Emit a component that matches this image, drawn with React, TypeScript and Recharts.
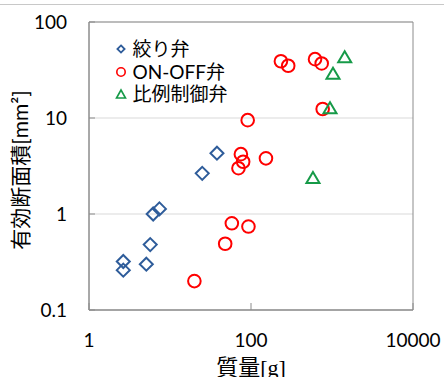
import React from "react";
import {
  ScatterChart,
  Scatter,
  XAxis,
  YAxis,
  CartesianGrid,
  ReferenceArea,
  Legend,
} from "recharts";

// 絞り弁
const throttleMass = [2.65, 2.65, 5.1, 5.7, 6.2, 7.4, 25, 38];
const throttleArea = [0.32, 0.26, 0.3, 0.48, 1.0, 1.13, 2.65, 4.3];

// ON-OFF弁
const onoffMass = [20, 48, 58, 93, 70, 80, 75, 91, 153, 234, 288, 617, 746, 767];
const onoffArea = [0.2, 0.49, 0.8, 0.74, 3.0, 3.5, 4.2, 9.5, 3.8, 39, 35, 41, 37, 12.4];

// 比例制御弁
const propMass = [582, 945, 1029, 1435];
const propArea = [2.4, 12.8, 29.3, 43.5];

const xTicks = [1, 100, 10000];
const yTicks = [0.1, 1, 10, 100];

const FONT = "Lato, 'Noto Sans CJK JP', sans-serif";
const AXIS = "#8c8c8c";
const GRID = "#d9d9d9";
const BLUE = "#2e5c9a";
const RED = "#ff0000";
const GREEN = "#169a48";

const toPoints = (xs: number[], ys: number[]) => xs.map((x, i) => ({ x, y: ys[i] }));

const Diamond = ({ cx, cy, r = 6.5, sw = 2 }: any) => (
  <polygon
    points={`${cx},${cy - r} ${cx + r},${cy} ${cx},${cy + r} ${cx - r},${cy}`}
    fill="none"
    stroke={BLUE}
    strokeWidth={sw}
  />
);

const Ring = ({ cx, cy, r = 6.3, sw = 2 }: any) => (
  <circle cx={cx} cy={cy} r={r} fill="none" stroke={RED} strokeWidth={sw} />
);

const Tri = ({ cx, cy, w = 6.5, h = 5.5, sw = 2 }: any) => (
  <polygon
    points={`${cx},${cy - h} ${cx + w},${cy + h} ${cx - w},${cy + h}`}
    fill="none"
    stroke={GREEN}
    strokeWidth={sw}
    strokeLinejoin="miter"
  />
);

const series = [
  { name: "絞り弁", icon: <Diamond cx={7} cy={7} r={3.6} sw={1.8} /> },
  { name: "ON-OFF弁", icon: <Ring cx={7} cy={7} r={4.2} sw={1.6} /> },
  { name: "比例制御弁", icon: <Tri cx={7} cy={7} w={4.5} h={4} sw={1.6} /> },
];

const LegendBox = () => (
  <div style={{ fontFamily: FONT, fontSize: 19, color: "#000" }}>
    {series.map((s) => (
      <div key={s.name} style={{ display: "flex", alignItems: "center", height: 22.5 }}>
        <svg width={14} height={14} style={{ marginRight: 4.5 }}>
          {s.icon}
        </svg>
        <span style={{ lineHeight: "22.5px" }}>{s.name}</span>
      </div>
    ))}
  </div>
);

const XTick = (props: any) => {
  const { x, y, payload } = props;
  return (
    <g>
      <line x1={x} x2={x} y1={y - 23} y2={y - 30} stroke={AXIS} />
      <text x={x} y={y + 14} textAnchor="middle" fontFamily={FONT} fontSize={19} fill="#000">
        {String(payload.value)}
      </text>
    </g>
  );
};

const YTick = (props: any) => {
  const { x, y, payload } = props;
  return (
    <g>
      <line x1={x + 22} x2={x + 28} y1={y} y2={y} stroke={AXIS} />
      <text x={x} y={y} dy="0.36em" textAnchor="end" fontFamily={FONT} fontSize={19} fill="#000">
        {String(payload.value)}
      </text>
    </g>
  );
};

export default function App() {
  return (
    <div style={{ position: "absolute", left: 0, top: 0, width: 444, height: 377, background: "#fff", overflow: "hidden" }}>
      <div style={{ position: "absolute", left: 0, top: 4, width: 444, height: 1, background: "#c8c8c8" }} />
      <ScatterChart width={444} height={377} margin={{ top: 22, right: 31, bottom: 0, left: 0 }}>
        <CartesianGrid vertical={false} stroke={GRID} />
        <XAxis
          type="number"
          dataKey="x"
          scale="log"
          domain={[1, 10000]}
          ticks={xTicks}
          allowDataOverflow
          height={67}
          tickSize={0}
          tickMargin={23}
          tickLine={false}
          axisLine={{ stroke: AXIS }}
          tick={<XTick />}
          label={{
            content: (p: any) => (
              <text
                x={p.viewBox.x + p.viewBox.width / 2}
                y={p.viewBox.y + 65}
                textAnchor="middle"
                fontFamily={FONT}
                fontSize={22}
                fill="#000"
              >
                質量
                <tspan fontFamily="'Liberation Serif', serif">[g]</tspan>
              </text>
            ),
          }}
        />
        <YAxis
          type="number"
          dataKey="y"
          scale="log"
          domain={[0.1, 100]}
          ticks={yTicks}
          allowDataOverflow
          width={89}
          tickSize={0}
          tickMargin={22}
          tickLine={false}
          axisLine={{ stroke: AXIS }}
          tick={<YTick />}
          label={{
            content: (p: any) => {
              const cx = 21;
              const cy = p.viewBox.y + p.viewBox.height / 2 + 4;
              return (
                <text
                  x={cx}
                  y={cy}
                  dy="0.35em"
                  transform={`rotate(-90, ${cx}, ${cy})`}
                  textAnchor="middle"
                  fontFamily={FONT}
                  fontSize={21}
                  fill="#000"
                >
                  有効断面積[mm²]
                </text>
              );
            },
          }}
        />
        <ReferenceArea x1={1} x2={10000} y1={0.1} y2={100} fill="none" stroke={AXIS} strokeWidth={1} />
        <Legend
          layout="vertical"
          align="center"
          verticalAlign="middle"
          wrapperStyle={{ left: 114, top: 38, width: "auto", margin: 0 }}
          content={() => <LegendBox />}
        />
        <Scatter
          name="絞り弁"
          data={toPoints(throttleMass, throttleArea)}
          shape={(p: any) => <Diamond cx={p.cx} cy={p.cy} />}
          isAnimationActive={false}
        />
        <Scatter
          name="ON-OFF弁"
          data={toPoints(onoffMass, onoffArea)}
          shape={(p: any) => <Ring cx={p.cx} cy={p.cy} />}
          isAnimationActive={false}
        />
        <Scatter
          name="比例制御弁"
          data={toPoints(propMass, propArea)}
          shape={(p: any) => <Tri cx={p.cx} cy={p.cy} />}
          isAnimationActive={false}
        />
      </ScatterChart>
    </div>
  );
}
